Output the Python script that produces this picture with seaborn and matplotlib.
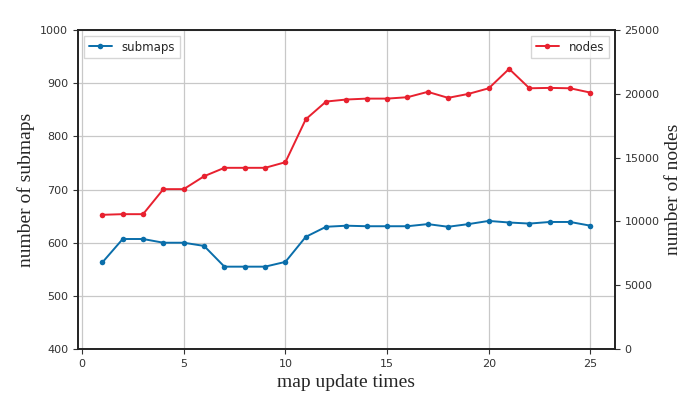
import numpy as np
import pandas as pd
import matplotlib
matplotlib.use("Agg")
import matplotlib.pyplot as plt
import seaborn as sns

update_times = list(range(1, 26))
submaps = [563, 607, 607, 600, 600, 594, 555, 555, 555, 564,
           611, 630, 632, 631, 631, 631, 635, 630, 635, 641,
           638, 636, 639, 639, 632]
nodes = [10520, 10570, 10570, 12530, 12530, 13540, 14200, 14200, 14200, 14640,
         18000, 19390, 19550, 19620, 19620, 19730, 20150, 19680, 19990, 20430,
         21950, 20430, 20460, 20430, 20090]

df = pd.DataFrame({'times': update_times, 'submaps': submaps, 'nodes': nodes})

sns.set_style('ticks')
plt.rcParams['font.family'] = ['DejaVu Sans']

fig, ax = plt.subplots(figsize=(6.87, 3.99), dpi=100)
fig.subplots_adjust(left=0.1135, right=0.895, top=0.925, bottom=0.125)

sns.lineplot(x='times', y='submaps', data=df, ax=ax, color='#0a6eaa',
             marker='o', markersize=4, markeredgewidth=0, linewidth=1.4, label='submaps')
ax.set_ylim(400, 1000)
ax.set_xticks([0, 5, 10, 15, 20, 25])
ax.grid(True, color='#c8c8c8', linewidth=0.9)
ax.set_axisbelow(True)
ax.tick_params(labelsize=8, colors='#333333', labelcolor='#333333')
ax.set_xlabel('map update times', family='Liberation Serif', fontsize=14)
ax.set_ylabel('number of submaps', family='Liberation Serif', fontsize=14)
ax.legend(loc='upper left', fontsize=8.5, fancybox=False)

ax2 = ax.twinx()
sns.lineplot(x='times', y='nodes', data=df, ax=ax2, color='#e8212f',
             marker='o', markersize=4, markeredgewidth=0, linewidth=1.4, label='nodes')
ax2.set_ylim(0, 25000)
ax2.tick_params(labelsize=8, colors='#333333', labelcolor='#333333')
ax2.set_ylabel('number of nodes', family='Liberation Serif', fontsize=14)
ax2.legend(loc='upper right', fontsize=8.5, fancybox=False)

for a in (ax, ax2):
    for s in a.spines.values():
        s.set_color('#222222')
        s.set_linewidth(1.2)

fig.savefig('out.png', dpi=100)
